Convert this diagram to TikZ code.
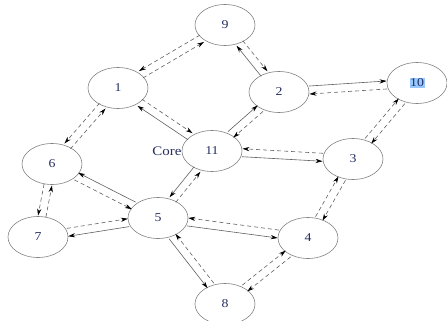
\documentclass[tikz,border=0pt]{standalone}
\usepackage{fontspec}
\setmainfont{Liberation Serif}[FakeStretch=1.15]
\usetikzlibrary{shapes.geometric,arrows.meta,calc}
\definecolor{txt}{RGB}{35,45,95}
\definecolor{edgec}{RGB}{95,95,95}
\definecolor{ringc}{RGB}{130,130,130}
\definecolor{hl}{RGB}{150,200,255}
\newcommand{\pe}[4]{%
  \path (#2) -- (#3)
    coordinate[pos=0,sloped,allow upside down,#4=4pt] (#2-#3-s)
    coordinate[pos=1,sloped,allow upside down,#4=4pt] (#2-#3-t);
  \draw[#1] (#2-#3-s) -- (#2-#3-t);}
\begin{document}
\begin{tikzpicture}[x=1pt,y=1pt,
  vtx/.style={ellipse,draw=ringc,line width=0.6pt,minimum width=60pt,minimum height=41pt,inner sep=0pt,
    text=txt,font=\fontsize{12}{14}\selectfont},
  sol/.style={draw=edgec,line width=0.6pt,-{Stealth[length=7pt,width=4.2pt,black]}},
  dsh/.style={sol,dash pattern=on 4pt off 3pt}]
\useasboundingbox (0,0) rectangle (447,-321);
\node[vtx] (n9) at (225,-25) {9};
\node[vtx] (n1) at (118,-88) {1};
\node[vtx] (n2) at (279,-92) {2};
\node[vtx] (n10) at (417,-83) {\setlength\fboxsep{0.6pt}\colorbox{hl}{10}};
\node[vtx] (n11) at (212,-151) {11};
\node[vtx] (n3) at (353,-159) {3};
\node[vtx] (n6) at (52,-164) {6};
\node[vtx] (n7) at (38,-237) {7};
\node[vtx] (n5) at (158,-218) {5};
\node[vtx] (n4) at (308,-238) {4};
\node[vtx] (n8) at (225,-304) {8};
\node[anchor=east,inner sep=0pt,text=txt,font=\fontsize{13}{15}\selectfont] (core) at (n11.west) {Core};
\pe{dsh}{n9}{n1}{below}
\pe{dsh}{n1}{n9}{below}
\pe{sol}{n2}{n9}{above}
\pe{dsh}{n9}{n2}{above}
\pe{sol}{n2}{n10}{above}
\pe{dsh}{n10}{n2}{above}
\pe{dsh}{n3}{n10}{above}
\pe{dsh}{n10}{n3}{above}
\pe{sol}{n11}{n3}{below}
\pe{dsh}{n3}{n11}{below}
\pe{sol}{n11}{n2}{above}
\pe{dsh}{n2}{n11}{above}
\pe{dsh}{n1}{n11}{above}
\pe{sol}{n11}{n1}{above}
\pe{dsh}{n1}{n6}{below}
\pe{dsh}{n6}{n1}{below}
\pe{dsh}{n6}{n7}{below}
\pe{dsh}{n7}{n6}{below}
\pe{dsh}{n6}{n5}{below}
\pe{sol}{n5}{n6}{below}
\pe{dsh}{n7}{n5}{above}
\pe{sol}{n5}{n7}{above}
\pe{sol}{n11}{n5}{below}
\pe{dsh}{n5}{n11}{below}
\pe{sol}{n5}{n4}{below}
\pe{dsh}{n4}{n5}{below}
\pe{sol}{n5}{n8}{below}
\pe{dsh}{n8}{n5}{below}
\pe{dsh}{n8}{n4}{above}
\pe{dsh}{n4}{n8}{above}
\pe{dsh}{n4}{n3}{above}
\pe{dsh}{n3}{n4}{above}
\end{tikzpicture}
\end{document}
